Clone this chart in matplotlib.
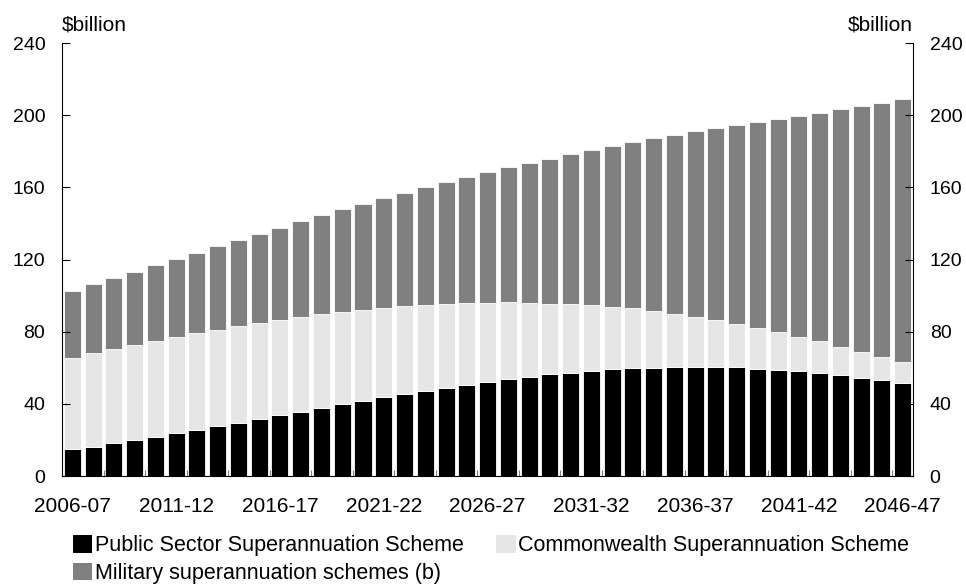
import numpy as np
import matplotlib.pyplot as plt
from matplotlib.patches import Patch

plt.rcParams['font.family'] = ['Liberation Sans', 'DejaVu Sans']

# Financial years 2006-07 .. 2046-47
years = [f"{y}-{str(y + 1)[-2:]}" for y in range(2006, 2047)]

# $billion
pss = [14.8, 16.3, 18.1, 20.0, 21.8, 23.7, 25.5, 27.7, 29.6, 31.6, 33.6, 35.5, 37.7,
       39.7, 41.6, 43.6, 45.5, 47.3, 49.0, 50.6, 52.3, 53.9, 55.0, 56.4, 57.3, 58.4,
       59.1, 59.7, 60.0, 60.2, 60.4, 60.4, 60.2, 59.5, 58.9, 58.2, 56.9, 55.8, 54.3,
       53.0, 51.4]
css = [50.8, 51.9, 52.3, 52.6, 53.0, 53.2, 53.6, 53.2, 53.4, 53.2, 52.9, 52.6, 51.9,
       51.2, 50.4, 49.5, 48.6, 47.5, 46.3, 45.1, 43.6, 42.4, 40.9, 39.1, 37.9, 36.2,
       34.8, 33.3, 31.3, 29.8, 27.7, 25.9, 24.2, 22.7, 20.9, 19.0, 17.8, 15.7, 14.6,
       12.8, 11.6]
military = [36.9, 38.1, 39.4, 40.7, 42.0, 43.4, 44.7, 46.4, 48.0, 49.3, 51.1, 53.1, 54.9,
            56.9, 58.9, 61.0, 62.9, 65.2, 67.5, 70.0, 72.6, 75.0, 77.6, 80.4, 83.3, 86.1,
            89.0, 92.0, 95.9, 99.2, 102.9, 106.6, 110.3, 114.2, 118.2, 122.5, 126.7,
            131.8, 136.1, 141.2, 145.8]

labels = ["Public Sector Superannuation Scheme",
          "Commonwealth Superannuation Scheme",
          "Military superannuation schemes (b)"]
colors = ["#000000", "#e6e6e6", "#808080"]

x = np.arange(len(years))
pss = np.array(pss)
css = np.array(css)
military = np.array(military)

fig = plt.figure(figsize=(9.66, 5.87), dpi=100)
ax = fig.add_axes([0.0642, 0.189, 0.8810, 0.7377])

w = 0.82
ax.bar(x, pss, width=w, color=colors[0], edgecolor="white", linewidth=0.6)
ax.bar(x, css, width=w, bottom=pss, color=colors[1], edgecolor="white", linewidth=0.6)
ax.bar(x, military, width=w, bottom=pss + css, color=colors[2], edgecolor="white", linewidth=0.6)

ax.set_xlim(-0.5, len(years) - 0.5)
ax.set_ylim(0, 240)
ax.set_yticks(np.arange(0, 241, 40))
ax.tick_params(axis="y", which="both", direction="in", length=6, width=0.8,
               left=True, right=True, labelleft=True, labelright=True,
               labelsize=14, pad=12)

ax.set_xticks(x[::5])
ax.set_xticklabels(years[::5])
ax.set_xticks(np.arange(1.5, len(years) - 1, 2), minor=True)
ax.tick_params(axis="x", which="major", length=0, labelsize=15, pad=15)
ax.tick_params(axis="x", which="minor", direction="in", length=4, width=0.8, color="#808080")

ax.spines["top"].set_visible(False)
for s in ["left", "right", "bottom"]:
    ax.spines[s].set_linewidth(0.8)

ax.text(0, 1.02, "$billion", transform=ax.transAxes, ha="left", va="bottom", fontsize=15)
ax.text(1, 1.02, "$billion", transform=ax.transAxes, ha="right", va="bottom", fontsize=15)

handles = [Patch(facecolor=c, edgecolor="none", label=l) for c, l in zip(colors, labels)]
order = [0, 2, 1]
fig.legend([handles[i] for i in order], [labels[i] for i in order],
           loc="upper left", bbox_to_anchor=(0.0756, 0.089), ncol=2, frameon=False,
           fontsize=15.5, handlelength=0.9, handleheight=0.9, handletextpad=0.12,
           columnspacing=1.5, labelspacing=0.3, borderaxespad=0, borderpad=0)

plt.savefig("out.png", dpi=100)
